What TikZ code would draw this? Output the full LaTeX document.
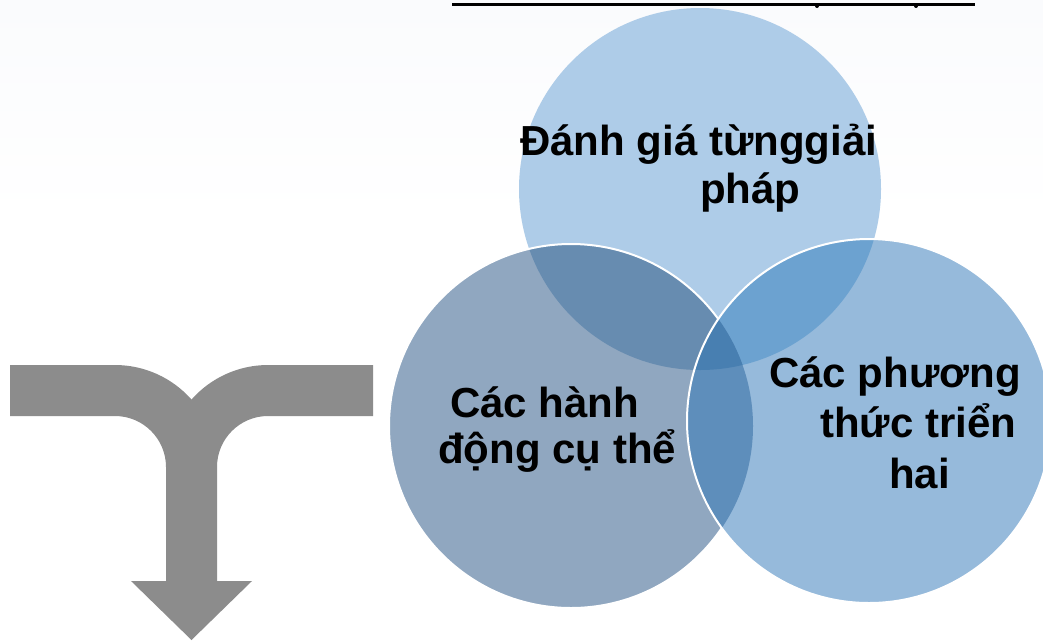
\documentclass[tikz,border=0pt]{standalone}
\usepackage{fontspec}
\setmainfont{Liberation Sans}
\definecolor{cT}{RGB}{174,204,232}
\definecolor{cL}{RGB}{144,167,192}
\definecolor{cR}{RGB}{150,186,219}
\definecolor{cTL}{RGB}{103,140,176}
\definecolor{cTR}{RGB}{108,162,208}
\definecolor{cLR}{RGB}{94,142,187}
\definecolor{cTLR}{RGB}{72,127,177}
\definecolor{arrowgrey}{RGB}{140,140,140}
\definecolor{faint}{RGB}{250,251,253}
\tikzset{
  lbl/.style={anchor=base west, inner sep=0pt, text=black,
    font=\bfseries\fontsize{42}{46}\selectfont},
  rim/.style={draw=white, line width=2pt}
}
\begin{document}
\begin{tikzpicture}[x=1pt,y=-1pt]
\useasboundingbox (0,0) rectangle (1043,641);
\fill[white] (0,0) rectangle (1043,641);
\shade[top color=faint, bottom color=white] (0,0) rectangle (1043,220);
% top rule
\draw[black, line width=3pt] (452,4) -- (975,4);
\fill[black] (817,6) circle[radius=2];
\fill[black] (916,6) circle[radius=2];
% merge arrow
\fill[arrowgrey] (10,365) -- (115,365)
  arc[start angle=-90, end angle=-41.4, radius=102]
  arc[start angle=221.4, end angle=270, radius=102]
  -- (373,365) -- (373,416) -- (268,416)
  arc[start angle=270, end angle=180, radius=51]
  -- (217,581) -- (252,581) -- (191.5,640) -- (131,581) -- (166,581)
  -- (166,467)
  arc[start angle=0, end angle=-90, radius=51]
  -- (10,416) -- cycle;
% circles
\def\Tc{(700,189) circle[radius=181]}
\def\Lc{(571,426) circle[radius=182]}
\def\Rc{(869,421) circle[radius=182]}
\fill[cT] \Tc;
\fill[cL] \Lc;
\fill[cR] \Rc;
\begin{scope}\clip \Tc; \fill[cTL] \Lc; \end{scope}
\begin{scope}\clip \Tc; \fill[cTR] \Rc; \end{scope}
\begin{scope}\clip \Lc; \fill[cLR] \Rc; \end{scope}
\begin{scope}\clip \Tc; \clip \Lc; \fill[cTLR] \Rc; \end{scope}
% white rims
\begin{scope}[even odd rule]
  \clip (0,0) rectangle (1043,641) \Rc;
  \draw[rim] \Lc;
\end{scope}
\begin{scope}
  \clip (0,0) rectangle (1043,641);
  \draw[rim] \Rc;
\end{scope}
% labels
\node[lbl] (t1) at (520,155) {Đánh giá từnggiải};
\node[lbl] (t2) at (700,203) {pháp};
\node[lbl] (l1) at (450,417) {Các hành};
\node[lbl] (l2) at (438,463) {động cụ thể};
\node[lbl] (r1) at (769,387) {Các phương};
\node[lbl] (r2) at (820,437) {thức triển};
\node[lbl] (r3) at (889,488) {hai};
\end{tikzpicture}
\end{document}
